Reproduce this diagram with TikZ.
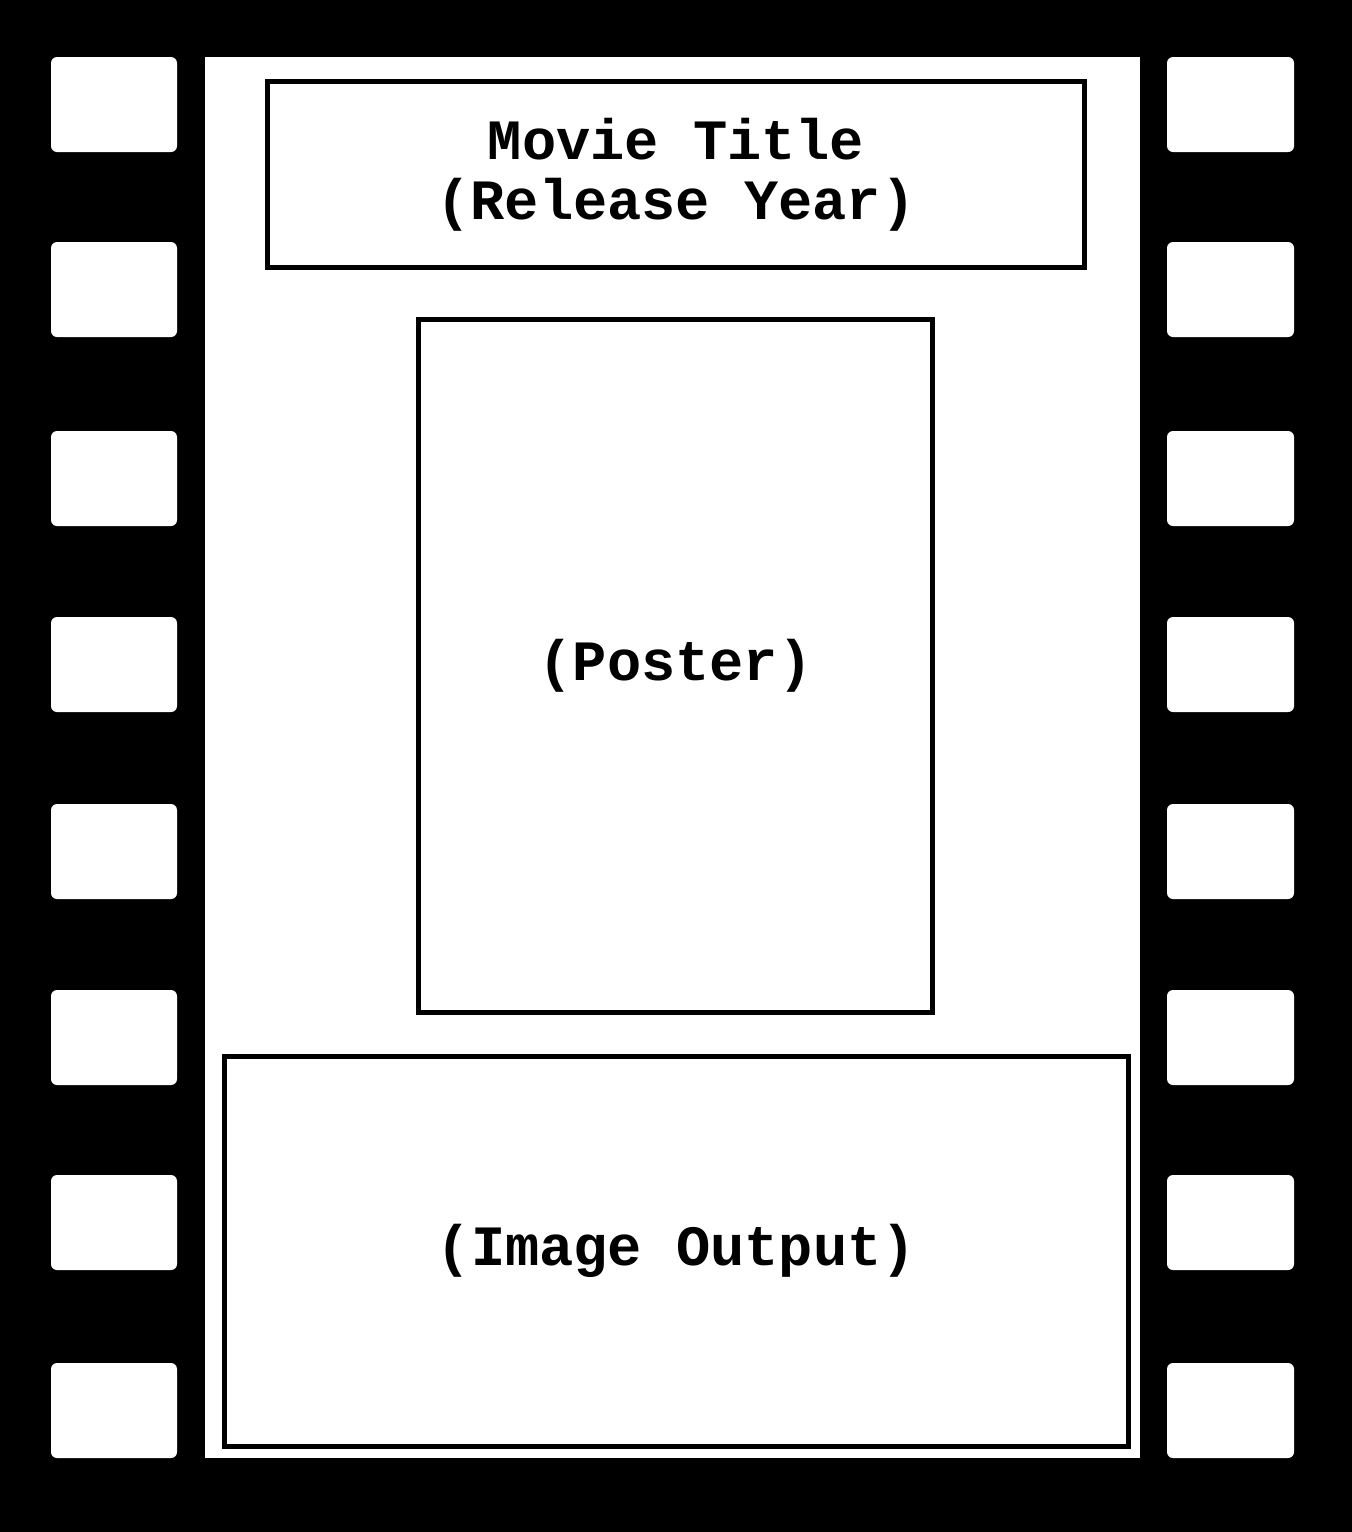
\documentclass[tikz,border=0pt]{standalone}
\usepackage{fontspec}
\setmonofont{Liberation Mono}
\begin{document}
\begin{tikzpicture}[x=1pt,y=-1pt,
  hole/.style={fill=white,rounded corners=6pt},
  frame/.style={draw=black,line width=5pt,fill=white,inner sep=0pt,
    font=\ttfamily\bfseries\fontsize{57}{60}\selectfont,align=center}]
\fill[black] (0,0) rectangle (1352,1532);
\useasboundingbox (0,0) rectangle (1352,1532);
% film panel
\fill[white] (204.5,57) rectangle (1140,1458);
% sprocket holes
\foreach \t in {57,242,431,617,804,990,1175,1363}{
  \fill[hole] (51,\t) rectangle (177,\t+95);
  \fill[hole] (1167,\t) rectangle (1294,\t+95);
}
\node[frame,minimum width=817pt,minimum height=186pt] (title) at (676,174.5)
  {Movie Title\\(Release Year)};
\node[frame,minimum width=514pt,minimum height=693pt] (poster) at (675.5,666)
  {(Poster)};
\node[frame,minimum width=904.5pt,minimum height=389.5pt] (output) at (676.25,1251.25)
  {(Image Output)};
\end{tikzpicture}
\end{document}
